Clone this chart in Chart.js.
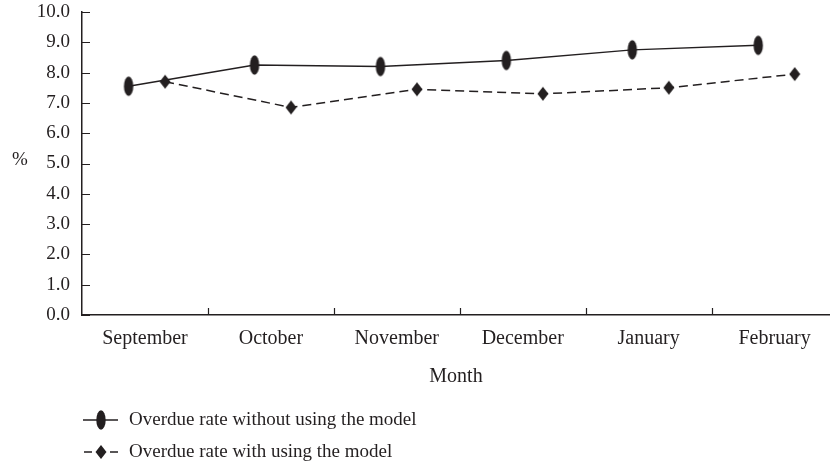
<!DOCTYPE html>
<html>
<head>
<meta charset="utf-8">
<script src="https://cdn.jsdelivr.net/npm/chart.js@4.4.1/dist/chart.umd.min.js"></script>
<style>
  html, body { margin: 0; padding: 0; background: #fff; }
</style>
</head>
<body>
<canvas id="myChart" width="830" height="466"></canvas>
<script>
const months = ['September', 'October', 'November', 'December', 'January', 'February']
const withoutModel = [7.55, 8.25, 8.2, 8.4, 8.75, 8.9]
const withModel = [7.7, 6.85, 7.45, 7.3, 7.5, 7.95]
const seriesLabels = ['Overdue rate without using the model', 'Overdue rate with using the model']
const yTitle = '%'
const xTitle = 'Month'

const ink = '#231f20'
const family = "'Liberation Serif', 'Times New Roman', serif"
const fontSize = 19

// where inside a month the two series sit (fraction of the month slot)
const slotShift = [0.37, 0.66]

function ellipseMarker() {
  const c = document.createElement('canvas')
  c.width = 12
  c.height = 22
  const g = c.getContext('2d')
  g.fillStyle = ink
  g.beginPath()
  g.ellipse(6, 11, 4.7, 9.7, 0, 0, Math.PI * 2)
  g.fill()
  return c
}

function diamondMarker() {
  const c = document.createElement('canvas')
  c.width = 12
  c.height = 16
  const g = c.getContext('2d')
  g.fillStyle = ink
  g.beginPath()
  g.moveTo(6, 1)
  g.lineTo(11.5, 8)
  g.lineTo(6, 15)
  g.lineTo(0.5, 8)
  g.closePath()
  g.fill()
  return c
}

const ellipse = ellipseMarker()
const diamond = diamondMarker()

// tick marks point inward, plus the loose '%' label and the stacked legend
const axisDecor = {
  id: 'axisDecor',
  afterDraw(chart) {
    const { ctx, chartArea, scales: { x, y } } = chart
    ctx.save()
    ctx.strokeStyle = ink
    ctx.lineWidth = 1.2
    ctx.beginPath()
    y.ticks.forEach(t => {
      const py = Math.round(y.getPixelForValue(t.value)) + 0.5
      ctx.moveTo(chartArea.left, py)
      ctx.lineTo(chartArea.left + 8, py)
    })
    for (let k = 1; k < months.length; k++) {
      const px = Math.round(x.getPixelForValue(k)) + 0.5
      ctx.moveTo(px, chartArea.bottom)
      ctx.lineTo(px, chartArea.bottom - 7)
    }
    ctx.stroke()

    ctx.fillStyle = ink
    ctx.font = fontSize + 'px ' + family
    ctx.textAlign = 'center'
    ctx.textBaseline = 'middle'
    ctx.fillText(yTitle, 20, (chartArea.top + chartArea.bottom) / 2 - 3)

    const rows = [420, 452]
    chart.data.datasets.forEach((ds, i) => {
      const ry = rows[i]
      ctx.lineWidth = 1.5
      ctx.beginPath()
      if (ds.borderDash && ds.borderDash.length) {
        ctx.moveTo(84, ry); ctx.lineTo(92, ry)
        ctx.moveTo(110, ry); ctx.lineTo(118, ry)
      } else {
        ctx.moveTo(83, ry); ctx.lineTo(118, ry)
      }
      ctx.stroke()
      const img = ds.pointStyle
      ctx.drawImage(img, 101 - img.width / 2, ry - img.height / 2)
      ctx.textAlign = 'left'
      ctx.fillText(ds.label, 129, ry)
    })
    ctx.restore()
  }
}

const config = {
  type: 'line',
  data: {
    datasets: [
      {
        label: seriesLabels[0],
        data: withoutModel.map((v, i) => ({ x: i + slotShift[0], y: v })),
        borderColor: ink,
        backgroundColor: ink,
        borderWidth: 1.5,
        pointStyle: ellipse,
        pointRadius: 5,
        fill: false
      },
      {
        label: seriesLabels[1],
        data: withModel.map((v, i) => ({ x: i + slotShift[1], y: v })),
        borderColor: ink,
        backgroundColor: ink,
        borderWidth: 1.5,
        borderDash: [9, 5],
        pointStyle: diamond,
        pointRadius: 5,
        fill: false
      }
    ]
  },
  options: {
    responsive: false,
    animation: false,
    layout: { autoPadding: false, padding: { top: 12, right: 0, bottom: 77, left: 0 } },
    plugins: {
      legend: { display: false },
      tooltip: { enabled: false }
    },
    scales: {
      x: {
        type: 'linear',
        min: 0,
        max: 5.94,
        afterBuildTicks: s => {
          s.ticks = months.map((m, i) => ({ value: i + 0.5 }))
        },
        ticks: {
          callback: (v, i) => months[i],
          autoSkip: false,
          maxRotation: 0,
          padding: 12,
          color: ink,
          font: { family, size: 20 }
        },
        grid: { display: false, drawTicks: false },
        border: { display: true, color: ink, width: 1.5 },
        title: {
          display: true,
          text: xTitle,
          color: ink,
          font: { family, size: 20 },
          padding: { top: 2, bottom: 0 }
        }
      },
      y: {
        min: 0,
        max: 10,
        afterFit: s => {
          s.width = 82
          s.paddingTop = 0
          s.paddingBottom = 0
        },
        ticks: {
          stepSize: 1,
          callback: v => v.toFixed(1),
          padding: 12,
          color: ink,
          font: { family, size: fontSize }
        },
        grid: { display: false, drawTicks: false },
        border: { display: true, color: ink, width: 1.5 }
      }
    }
  },
  plugins: [axisDecor]
}

const myChart = new Chart(document.getElementById('myChart'), config)
</script>
</body>
</html>
